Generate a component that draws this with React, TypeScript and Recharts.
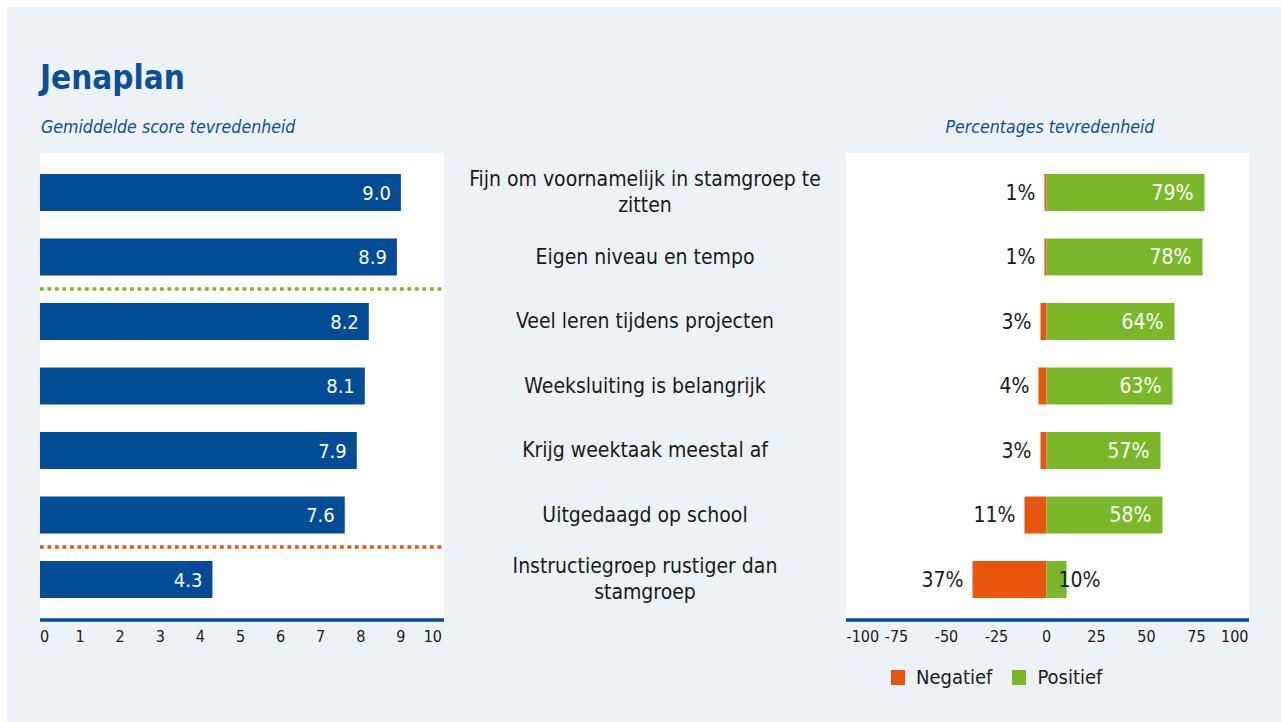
import React from "react";
import {
  BarChart,
  Bar,
  XAxis,
  YAxis,
  ReferenceLine,
  LabelList,
} from "recharts";

// ---- data ----
const categories = [
  "Fijn om voornamelijk in stamgroep te zitten",
  "Eigen niveau en tempo",
  "Veel leren tijdens projecten",
  "Weeksluiting is belangrijk",
  "Krijg weektaak meestal af",
  "Uitgedaagd op school",
  "Instructiegroep rustiger dan stamgroep",
];
const scores = [9.0, 8.9, 8.2, 8.1, 7.9, 7.6, 4.3];
const negatief = [1, 1, 3, 4, 3, 11, 37];
const positief = [79, 78, 64, 63, 57, 58, 10];
const scoreTicks = [0, 1, 2, 3, 4, 5, 6, 7, 8, 9, 10];
const pctTicks = [-100, -75, -50, -25, 0, 25, 50, 75, 100];
const series = [
  { key: "Negatief", color: "#E9540F" },
  { key: "Positief", color: "#7AB829" },
];

// ---- styles ----
const FONT = '"DejaVu Sans Condensed", "DejaVu Sans", sans-serif';
const NAVY = "#004C97";
const TITLE_BLUE = "#0B4E9C";
const BG = "#EDF2F7";
const TEXT = "#1A1A1A";

const scoreData = categories.map((name, i) => ({ name, score: scores[i] }));
const pctData = categories.map((name, i) => ({
  name,
  Negatief: -negatief[i],
  Positief: positief[i],
}));

function wrap(text: string, maxChars: number): string[] {
  const words = text.split(" ");
  const lines: string[] = [];
  let cur = "";
  for (const w of words) {
    const next = cur ? cur + " " + w : w;
    if (next.length > maxChars && cur) {
      lines.push(cur);
      cur = w;
    } else cur = next;
  }
  if (cur) lines.push(cur);
  return lines;
}

function makeXTick(ticks: number[], endShift: number) {
  return (props: any) => {
    const { x, y, payload } = props;
    const v = payload.value;
    const first = v === ticks[0];
    const last = v === ticks[ticks.length - 1];
    return (
      <text
        x={x + (last ? endShift : 0)}
        y={y}
        dy={22}
        textAnchor={first ? "start" : last ? "end" : "middle"}
        fontSize={16}
        fontFamily={FONT}
        fill={TEXT}
      >
        {v}
      </text>
    );
  };
}

const CategoryTick = (props: any) => {
  const { x, y, payload } = props;
  const lines = wrap(String(payload.value), 36);
  const lh = 26;
  const start = -((lines.length - 1) * lh) / 2;
  return (
    <text
      x={x - 201}
      y={y}
      textAnchor="middle"
      fontSize={21}
      fontFamily={FONT}
      fill={TEXT}
    >
      {lines.map((l, i) => (
        <tspan key={i} x={x - 201} dy={i === 0 ? start + 7 : lh}>
          {l}
        </tspan>
      ))}
    </text>
  );
};

const ScoreLabel = (props: any) => {
  const { x, y, width, height, value } = props;
  return (
    <text
      x={x + width - 10}
      y={y + height / 2}
      dy={7}
      textAnchor="end"
      fontSize={20}
      fontFamily={FONT}
      fill="#FFFFFF"
    >
      {Number(value).toFixed(1)}
    </text>
  );
};

const NegLabel = (props: any) => {
  const { x, y, width, height, value } = props;
  const left = Math.min(x, x + width);
  return (
    <text
      x={left - 9}
      y={y + height / 2}
      dy={7}
      textAnchor="end"
      fontSize={21}
      fontFamily={FONT}
      fill={TEXT}
    >
      {Math.abs(Number(value))}%
    </text>
  );
};

const PosLabel = (props: any) => {
  const { x, y, width, height, value } = props;
  const right = Math.max(x, x + width);
  const fits = Math.abs(width) > 45;
  return (
    <text
      x={fits ? right - 11 : right - 8}
      y={y + height / 2}
      dy={7}
      textAnchor={fits ? "end" : "start"}
      fontSize={21}
      fontFamily={FONT}
      fill={fits ? "#FFFFFF" : TEXT}
    >
      {Number(value)}%
    </text>
  );
};

export default function App() {
  return (
    <div
      style={{
        position: "absolute",
        left: 0,
        top: 0,
        width: 1281,
        height: 722,
        background: "#FFFFFF",
        overflow: "hidden",
        fontFamily: FONT,
      }}
    >
      <div
        style={{
          position: "absolute",
          left: 7,
          top: 7,
          width: 1274,
          height: 715,
          background: BG,
        }}
      />
      {/* title */}
      <div
        style={{
          position: "absolute",
          left: 40,
          top: 61,
          fontSize: 33,
          lineHeight: "33px",
          fontWeight: "bold",
          color: TITLE_BLUE,
          whiteSpace: "nowrap",
        }}
      >
        Jenaplan
      </div>
      <div
        style={{
          position: "absolute",
          left: 41,
          top: 118,
          fontSize: 17.6,
          lineHeight: "18px",
          fontStyle: "italic",
          color: TITLE_BLUE,
          whiteSpace: "nowrap",
        }}
      >
        Gemiddelde score tevredenheid
      </div>
      <div
        style={{
          position: "absolute",
          left: 900,
          width: 300,
          textAlign: "center",
          top: 118,
          fontSize: 17.6,
          lineHeight: "18px",
          fontStyle: "italic",
          color: TITLE_BLUE,
          whiteSpace: "nowrap",
        }}
      >
        Percentages tevredenheid
      </div>
      {/* white plot panels */}
      <div
        style={{
          position: "absolute",
          left: 40,
          top: 153,
          width: 404,
          height: 467,
          background: "#FFFFFF",
        }}
      />
      <div
        style={{
          position: "absolute",
          left: 846,
          top: 153,
          width: 403,
          height: 467,
          background: "#FFFFFF",
        }}
      />

      {/* left chart */}
      <div style={{ position: "absolute", left: 30, top: 150 }}>
        <BarChart
          width={430}
          height={510}
          data={scoreData}
          layout="vertical"
          margin={{ top: 10, right: 16, bottom: 10, left: 10 }}
        >
          <XAxis
            type="number"
            domain={[0, 10.075]}
            ticks={scoreTicks}
            interval={0}
            height={30}
            tickLine={false}
            tickSize={0}
            tickMargin={0}
            axisLine={{ stroke: NAVY, strokeWidth: 3.5 }}
            tick={makeXTick(scoreTicks, 1)}
          />
          <YAxis
            type="category"
            dataKey="name"
            hide
            width={0}
            padding={{ top: 0, bottom: 8.5 }}
          />
          <Bar
            dataKey="score"
            fill={NAVY}
            barSize={37}
            isAnimationActive={false}
          >
            <LabelList dataKey="score" content={ScoreLabel} />
          </Bar>
          <ReferenceLine
            y={categories[1]}
            position="end"
            stroke="#7AB829"
            strokeWidth={3.5}
            strokeDasharray="3.75 3.75"
          />
          <ReferenceLine
            y={categories[5]}
            position="end"
            stroke="#E9540F"
            strokeWidth={3.5}
            strokeDasharray="3.75 3.75"
          />
        </BarChart>
      </div>

      {/* right chart */}
      <div style={{ position: "absolute", left: 440, top: 150 }}>
        <BarChart
          width={830}
          height={510}
          data={pctData}
          layout="vertical"
          stackOffset="sign"
          margin={{ top: 10, right: 21, bottom: 10, left: 0 }}
        >
          <XAxis
            type="number"
            domain={[-100.25, 101.25]}
            ticks={pctTicks}
            interval={0}
            height={30}
            tickLine={false}
            tickSize={0}
            tickMargin={0}
            axisLine={{ stroke: NAVY, strokeWidth: 3.5 }}
            tick={makeXTick(pctTicks, 2)}
          />
          <YAxis
            type="category"
            dataKey="name"
            width={406}
            axisLine={false}
            tickLine={false}
            tickSize={0}
            tickMargin={0}
            interval={0}
            padding={{ top: 0, bottom: 8.5 }}
            tick={CategoryTick}
          />
          <Bar
            dataKey="Negatief"
            stackId="a"
            fill={series[0].color}
            barSize={37}
            isAnimationActive={false}
          >
            <LabelList dataKey="Negatief" content={NegLabel} />
          </Bar>
          <Bar
            dataKey="Positief"
            stackId="a"
            fill={series[1].color}
            barSize={37}
            isAnimationActive={false}
          >
            <LabelList dataKey="Positief" content={PosLabel} />
          </Bar>
        </BarChart>
      </div>

      {/* legend */}
      <div
        style={{
          position: "absolute",
          left: 891,
          top: 665,
          display: "flex",
          alignItems: "center",
          height: 24,
          fontSize: 20,
          color: TEXT,
          whiteSpace: "nowrap",
        }}
      >
        {series.map((s) => (
          <div
            key={s.key}
            style={{ display: "flex", alignItems: "center", marginRight: 20 }}
          >
            <div
              style={{
                width: 14,
                height: 15,
                background: s.color,
                marginRight: 11,
              }}
            />
            <span>{s.key}</span>
          </div>
        ))}
      </div>
    </div>
  );
}
